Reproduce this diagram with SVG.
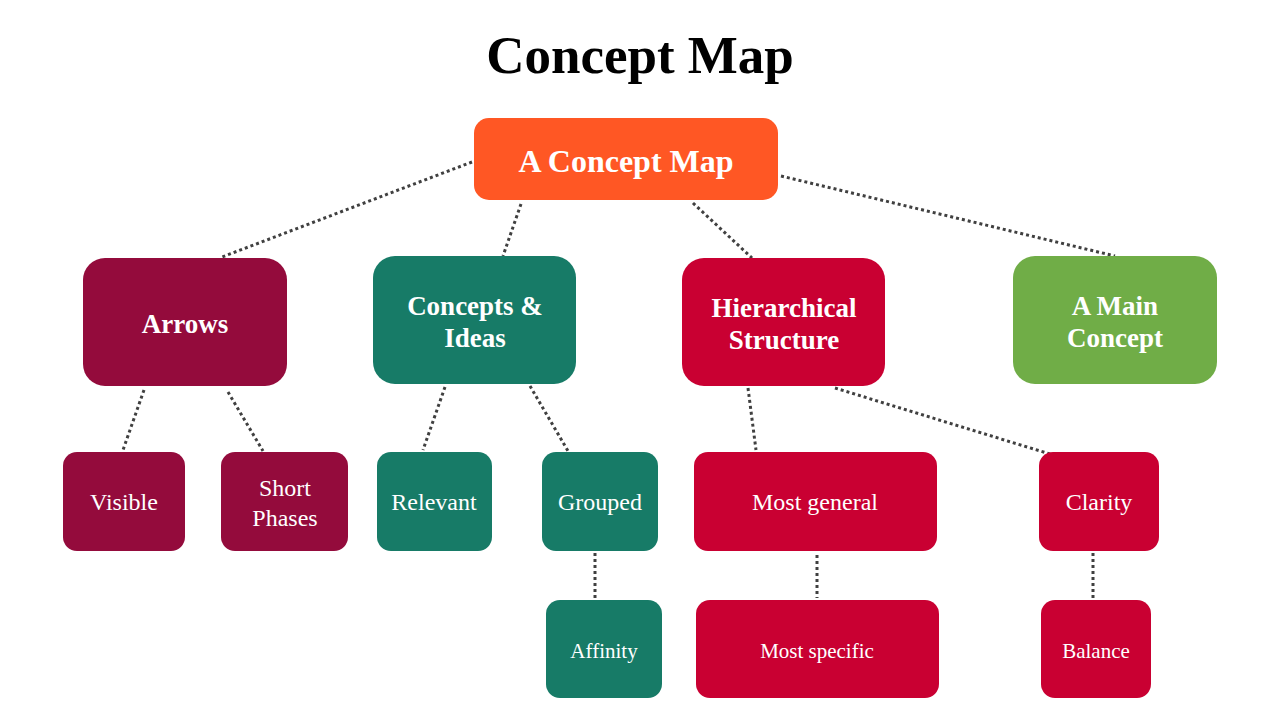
<svg xmlns="http://www.w3.org/2000/svg" width="1280" height="720" viewBox="0 0 1280 720">
<style>
text{font-family:"Liberation Serif","Times New Roman",serif;fill:#fff;text-anchor:middle}
.title{fill:#000;font-size:53px;font-weight:bold}
.l1{font-size:32px;font-weight:bold}
.l2{font-size:27px;font-weight:bold}
.l3{font-size:24px}
.l4{font-size:21px}
.c{fill:none;stroke:#404040;stroke-width:3;stroke-dasharray:3 3}
.wine{fill:#940B3C}.teal{fill:#177B67}.red{fill:#C90032}.green{fill:#70AD47}.orange{fill:#FF5724}
</style>
<rect width="1280" height="720" fill="#fff"/>
<text class="title" x="640" y="73">Concept Map</text>
<g id="connectors">
<line class="c" x1="472" y1="162" x2="222" y2="257"/>
<line class="c" x1="521" y1="204" x2="503" y2="256"/>
<line class="c" x1="693" y1="203" x2="752" y2="258"/>
<line class="c" x1="781" y1="176" x2="1115" y2="256"/>
<line class="c" x1="144" y1="390" x2="123" y2="450"/>
<line class="c" x1="228" y1="392" x2="263" y2="451"/>
<line class="c" x1="445" y1="387" x2="423" y2="450"/>
<line class="c" x1="530" y1="386" x2="568" y2="451"/>
<line class="c" x1="748" y1="388" x2="756" y2="450"/>
<line class="c" x1="835" y1="388" x2="1050" y2="454"/>
<line class="c" x1="595" y1="553" x2="595" y2="598"/>
<line class="c" x1="817" y1="555" x2="817" y2="598"/>
<line class="c" x1="1093" y1="553" x2="1093" y2="598"/>
</g>
<g id="main"><rect class="orange" x="474" y="118" width="304" height="82" rx="15"/><text class="l1" x="626" y="172">A Concept Map</text></g>
<g id="arrows"><rect class="wine" x="83" y="258" width="204" height="128" rx="22"/><text class="l2" x="185" y="333">Arrows</text></g>
<g id="concepts"><rect class="teal" x="373" y="256" width="203" height="128" rx="22"/><text class="l2" x="475" y="315">Concepts &amp;</text><text class="l2" x="475" y="347">Ideas</text></g>
<g id="hier"><rect class="red" x="682" y="258" width="203" height="128" rx="22"/><text class="l2" x="784" y="317">Hierarchical</text><text class="l2" x="784" y="349">Structure</text></g>
<g id="amain"><rect class="green" x="1013" y="256" width="204" height="128" rx="22"/><text class="l2" x="1115" y="315">A Main</text><text class="l2" x="1115" y="347">Concept</text></g>
<g id="visible"><rect class="wine" x="63" y="452" width="122" height="99" rx="14"/><text class="l3" x="124" y="510">Visible</text></g>
<g id="short"><rect class="wine" x="221" y="452" width="127" height="99" rx="14"/><text class="l3" x="285" y="496">Short</text><text class="l3" x="285" y="526">Phases</text></g>
<g id="relevant"><rect class="teal" x="377" y="452" width="115" height="99" rx="14"/><text class="l3" x="434" y="510">Relevant</text></g>
<g id="grouped"><rect class="teal" x="542" y="452" width="116" height="99" rx="14"/><text class="l3" x="600" y="510">Grouped</text></g>
<g id="general"><rect class="red" x="694" y="452" width="243" height="99" rx="14"/><text class="l3" x="815" y="510">Most general</text></g>
<g id="clarity"><rect class="red" x="1039" y="452" width="120" height="99" rx="14"/><text class="l3" x="1099" y="510">Clarity</text></g>
<g id="affinity"><rect class="teal" x="546" y="600" width="116" height="98" rx="14"/><text class="l4" x="604" y="658">Affinity</text></g>
<g id="specific"><rect class="red" x="696" y="600" width="243" height="98" rx="14"/><text class="l4" x="817" y="658">Most specific</text></g>
<g id="balance"><rect class="red" x="1041" y="600" width="110" height="98" rx="14"/><text class="l4" x="1096" y="658">Balance</text></g>
</svg>
